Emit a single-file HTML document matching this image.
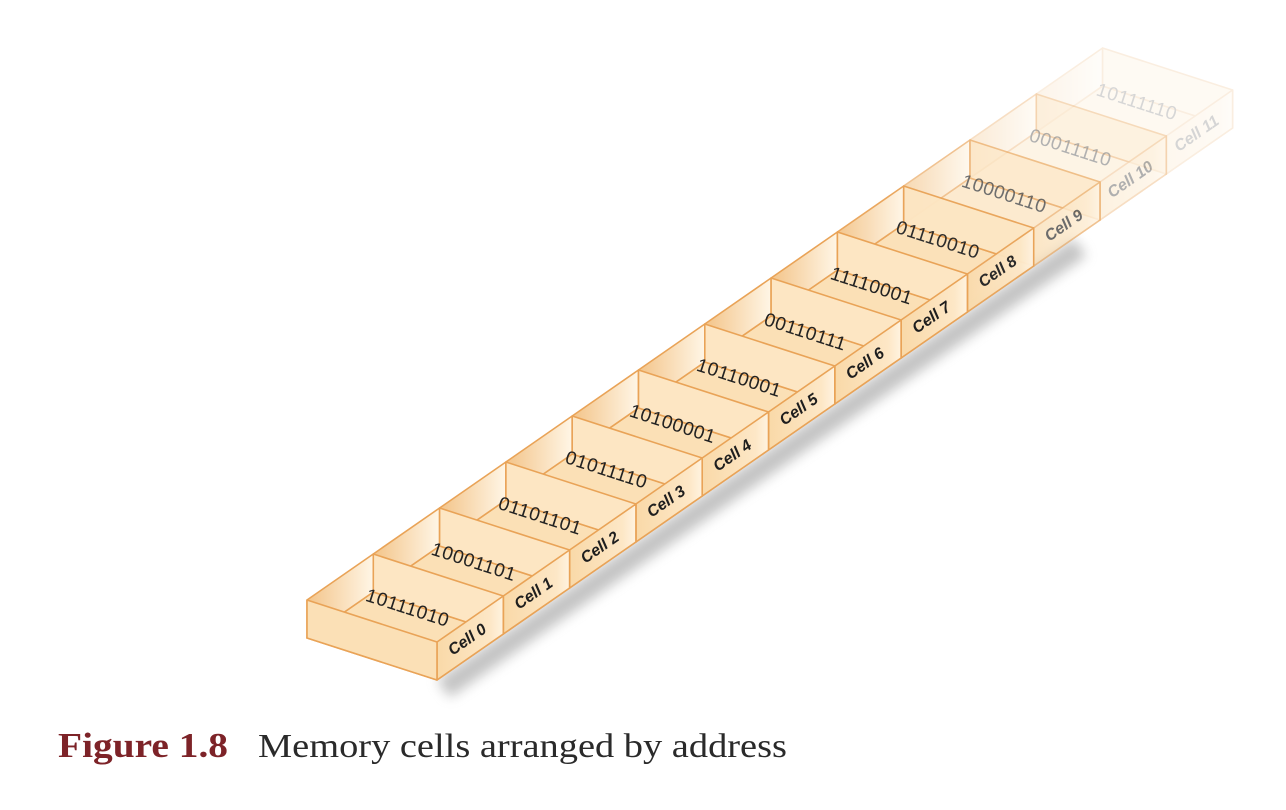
<!DOCTYPE html>
<html><head><meta charset="utf-8"><style>
html,body{margin:0;padding:0;background:#fff;width:1286px;height:810px;overflow:hidden}
svg{display:block}
</style></head><body>
<svg id="fig" width="1286" height="810" viewBox="0 0 1286 810">
<defs>
<linearGradient id="wallG" x1="0" y1="0" x2="1" y2="0">
<stop offset="0" stop-color="#f3c489"/><stop offset="1" stop-color="#fff6e6"/></linearGradient>
<linearGradient id="faceG" x1="0" y1="0" x2="1" y2="0">
<stop offset="0" stop-color="#f9d9a8"/><stop offset="0.8" stop-color="#fde7c6"/><stop offset="1" stop-color="#fff3e0"/></linearGradient>
<filter id="blur" x="-20%" y="-20%" width="140%" height="140%"><feGaussianBlur stdDeviation="6"/></filter>
</defs>
<g id="strip"></g>
<text x="58" y="757" font-family="Liberation Serif, serif" font-size="35" font-weight="bold" fill="#7d2328" textLength="170" lengthAdjust="spacingAndGlyphs">Figure 1.8</text>
<text x="258" y="757" font-family="Liberation Serif, serif" font-size="34" fill="#2a2a2a" textLength="529" lengthAdjust="spacingAndGlyphs">Memory cells arranged by address</text>
</svg>
<script>
const cellLabels = ["Cell 0","Cell 1","Cell 2","Cell 3","Cell 4","Cell 5","Cell 6","Cell 7","Cell 8","Cell 9","Cell 10","Cell 11"];
const cellValues = ["10111010","10001101","01101101","01011110","10100001","10110001","00110111","11110001","01110010","10000110","00011110","10111110"];
const cellOpacity = [1,1,1,1,1,1,1,1,0.95,0.65,0.35,0.18];

const NS="http://www.w3.org/2000/svg";
const g=document.getElementById('strip');
const P0=[307,600], U=[66.3,-46], V=[130,42], H=38;
function pt(t,s,d){return [P0[0]+U[0]*t+V[0]*s, P0[1]+U[1]*t+V[1]*s+H*d];}
function poly(pts,fill,name,parent){
  const p=document.createElementNS(NS,'polygon');
  p.setAttribute('points',pts.map(q=>q[0].toFixed(1)+','+q[1].toFixed(1)).join(' '));
  p.setAttribute('fill',fill);
  p.setAttribute('stroke','#e9a357');
  p.setAttribute('stroke-width','1.6');
  p.setAttribute('stroke-linejoin','round');
  
  
  parent.appendChild(p);return p;
}
const n=cellLabels.length;
const sh=document.createElementNS(NS,'polygon');
const a=pt(0,1,1),b=pt(n*0.8,1,1),c=pt(n*0.8,1.1,1.35),d=pt(0,1.1,1.35);
sh.setAttribute('points',[a,b,c,d].map(q=>q.join(',')).join(' '));
sh.setAttribute('fill','#8a8a8a');sh.setAttribute('opacity','0.5');sh.setAttribute('filter','url(#blur)');


g.appendChild(sh);

for(let i=n-1;i>=0;i--){
  const cg=document.createElementNS(NS,'g');
  cg.setAttribute('opacity',cellOpacity[i]);
  
  
  g.appendChild(cg);
  poly([pt(i,0,1),pt(i+1,0,1),pt(i+1,1,1),pt(i,1,1)],'#fbe0b6','cell-floor',cg);
  poly([pt(i,0,0),pt(i+1,0,0),pt(i+1,0,1),pt(i,0,1)],'url(#wallG)','cell-back-wall',cg);
  poly([pt(i+1,0,0),pt(i+1,1,0),pt(i+1,1,1),pt(i+1,0,1)],'#fde6c3','cell-partition',cg);
  const tp=pt(i+0.9,0.3,1.12);
  const t=document.createElementNS(NS,'text');
  t.setAttribute('x',tp[0]);t.setAttribute('y',tp[1]);
  t.setAttribute('text-anchor','middle');
  t.setAttribute('font-family','Liberation Sans, sans-serif');
  t.setAttribute('font-size','19');
  t.setAttribute('letter-spacing','0.6');
  t.setAttribute('fill','#222');
  t.setAttribute('transform','rotate(17.9 '+tp[0]+' '+tp[1]+')');
  t.textContent=cellValues[i];
  
  
  cg.appendChild(t);
  poly([pt(i,1,0),pt(i+1,1,0),pt(i+1,1,1),pt(i,1,1)],'url(#faceG)','cell-label-face',cg);
  const lp=pt(i+0.5,1,0.65);
  const l=document.createElementNS(NS,'text');
  l.setAttribute('x',lp[0]);l.setAttribute('y',lp[1]);
  l.setAttribute('text-anchor','middle');
  l.setAttribute('font-family','Liberation Sans, sans-serif');
  l.setAttribute('font-size','16');
  l.setAttribute('font-weight','bold');
  l.setAttribute('font-style','italic');
  l.setAttribute('fill','#1e1e1e');
  l.setAttribute('transform','rotate(-34.8 '+lp[0]+' '+lp[1]+')');
  l.textContent=cellLabels[i];
  
  
  cg.appendChild(l);
  if(i===0){
    poly([pt(0,0,0),pt(0,1,0),pt(0,1,1),pt(0,0,1)],'#fbe0b6','strip-front-end',cg);
  }
}
</script>
</body></html>
